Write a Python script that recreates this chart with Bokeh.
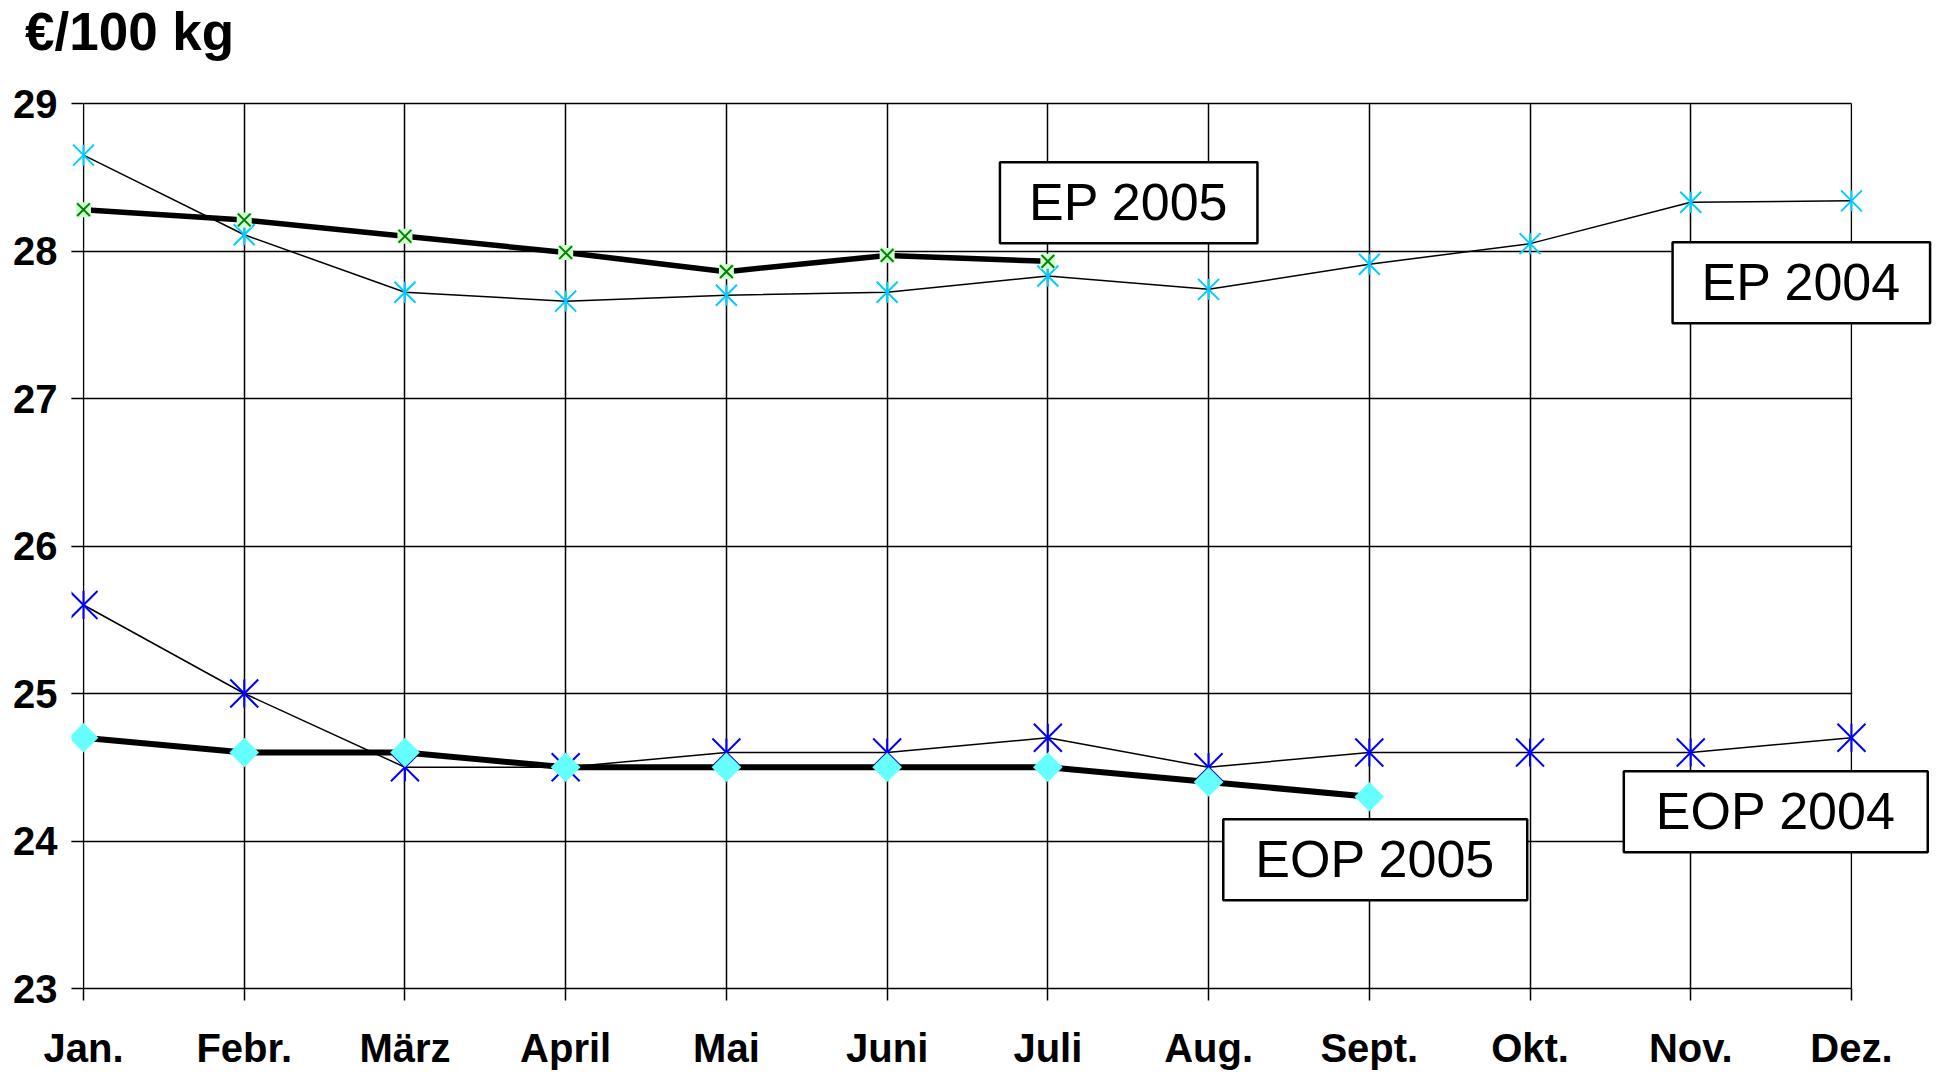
import math
from bokeh.plotting import figure
from bokeh.models import Range1d, FixedTicker, Label, BoxAnnotation, LinearAxis
from bokeh.embed import file_html
from bokeh.resources import INLINE

months = ["Jan.", "Febr.", "März", "April", "Mai", "Juni", "Juli", "Aug.", "Sept.", "Okt.", "Nov.", "Dez."]
ep_2004 = [28.65, 28.11, 27.72, 27.66, 27.70, 27.72, 27.83, 27.74, 27.91, 28.05, 28.33, 28.34]
ep_2005 = [28.28, 28.21, 28.10, 27.99, 27.86, 27.97, 27.93]
eop_2004 = [25.6, 25.0, 24.5, 24.5, 24.6, 24.6, 24.7, 24.5, 24.6, 24.6, 24.6, 24.7]
eop_2005 = [24.7, 24.6, 24.6, 24.5, 24.5, 24.5, 24.5, 24.4, 24.3]
y_ticks = [23, 24, 25, 26, 27, 28, 29]
unit_label = "€/100 kg"

FONT = "Liberation Sans"
last = len(months) - 1

p = figure(width=1936, height=1072,
           x_range=Range1d(-0.0747, last + 0.529), y_range=Range1d(y_ticks[0], y_ticks[-1]),
           output_backend="svg", toolbar_location=None,
           min_border_left=71, min_border_right=0, min_border_top=103, min_border_bottom=84)
p.background_fill_color = "white"
p.border_fill_color = "white"
p.outline_line_color = None

p.xaxis.ticker = FixedTicker(ticks=list(range(len(months))))
p.xaxis.major_label_overrides = {i: m for i, m in enumerate(months)}
p.xaxis.bounds = (0, last)
p.yaxis.ticker = FixedTicker(ticks=y_ticks)
for ax in (p.xaxis, p.yaxis):
    ax.minor_tick_out = 0
    ax.minor_tick_in = 0
    ax.major_tick_line_color = "black"
    ax.major_tick_line_width = 1.5
    ax.axis_line_color = "black"
    ax.axis_line_width = 1.5
    ax.major_label_text_font = FONT
    ax.major_label_text_font_size = "40px"
    ax.major_label_text_font_style = "bold"
    ax.major_label_text_color = "black"
p.xaxis.major_tick_out = 12
p.xaxis.major_tick_in = 0
p.xaxis.major_label_standoff = 25
# y ticks run from the frame edge to the January line
p.yaxis.major_tick_out = 0
p.yaxis.major_tick_in = 12
p.yaxis.axis_line_color = None
p.yaxis.major_label_standoff = 14

# top edge of the plotting area, from Jan. to Dez. only
top_edge = LinearAxis(ticker=FixedTicker(ticks=[]), bounds=(0, last),
                      axis_line_color="black", axis_line_width=1.5,
                      major_tick_out=0, major_tick_in=0, minor_tick_out=0, minor_tick_in=0)
p.add_layout(top_edge, "above")

p.xgrid.grid_line_color = "black"
p.ygrid.grid_line_color = "black"
p.ygrid.ticker = FixedTicker(ticks=y_ticks[1:-1])
p.grid.grid_line_width = 1.5
p.grid.grid_line_alpha = 1.0
# blank out grid lines outside Jan. .. Dez.
p.add_layout(BoxAnnotation(left=last + 0.005, fill_color="white", fill_alpha=1.0,
                           line_color=None, level="underlay"))
p.add_layout(BoxAnnotation(right=-0.005, fill_color="white", fill_alpha=1.0,
                           line_color=None, level="underlay"))

xs = list(range(len(months)))

def asterisk(x, y, size, color):
    p.scatter(x, y, marker="x", size=size / 0.707, line_color=color, line_width=2)
    p.scatter(x, y, marker="dash", angle=math.pi / 2, size=size, line_color=color, line_width=2)

# EP 2004
p.line(xs[:len(ep_2004)], ep_2004, line_color="black", line_width=1.5)
asterisk(xs[:len(ep_2004)], ep_2004, 21, "#00CCFF")
# EOP 2004
p.line(xs[:len(eop_2004)], eop_2004, line_color="black", line_width=1.5)
asterisk(xs[:len(eop_2004)], eop_2004, 28, "#0000FF")
# EP 2005
p.line(xs[:len(ep_2005)], ep_2005, line_color="black", line_width=5.5)
p.scatter(xs[:len(ep_2005)], ep_2005, marker="square", size=15, fill_color="#CCFFCC", line_color=None)
p.scatter(xs[:len(ep_2005)], ep_2005, marker="x", size=18, line_color="#008000", line_width=2)
# EOP 2005
p.line(xs[:len(eop_2005)], eop_2005, line_color="black", line_width=6)
p.scatter(xs[:len(eop_2005)], eop_2005, marker="square", angle=math.pi / 4, size=21,
          fill_color="#66FFFF", line_color=None)

def box_label(x, y, text, hpad):
    p.add_layout(Label(x=x, y=y, text=text, text_align="center", text_baseline="middle",
                       text_font=FONT, text_font_size="52px", text_color="black",
                       background_fill_color="white", border_line_color="black",
                       border_line_width=2.5,
                       padding=dict(left=hpad, right=hpad, top=11, bottom=12)))

box_label(6.503, 28.327, "EP 2005", 29)
box_label(10.688, 27.784, "EP 2004", 29)
box_label(8.037, 23.873, "EOP 2005", 32)
box_label(10.529, 24.199, "EOP 2004", 32)

p.add_layout(Label(x=-0.364, y=29.49, text=unit_label, text_align="left", text_baseline="alphabetic",
                   text_font=FONT, text_font_size="53px", text_font_style="bold",
                   text_color="black"), "above")

open("out.html", "w").write(file_html(p, INLINE))
